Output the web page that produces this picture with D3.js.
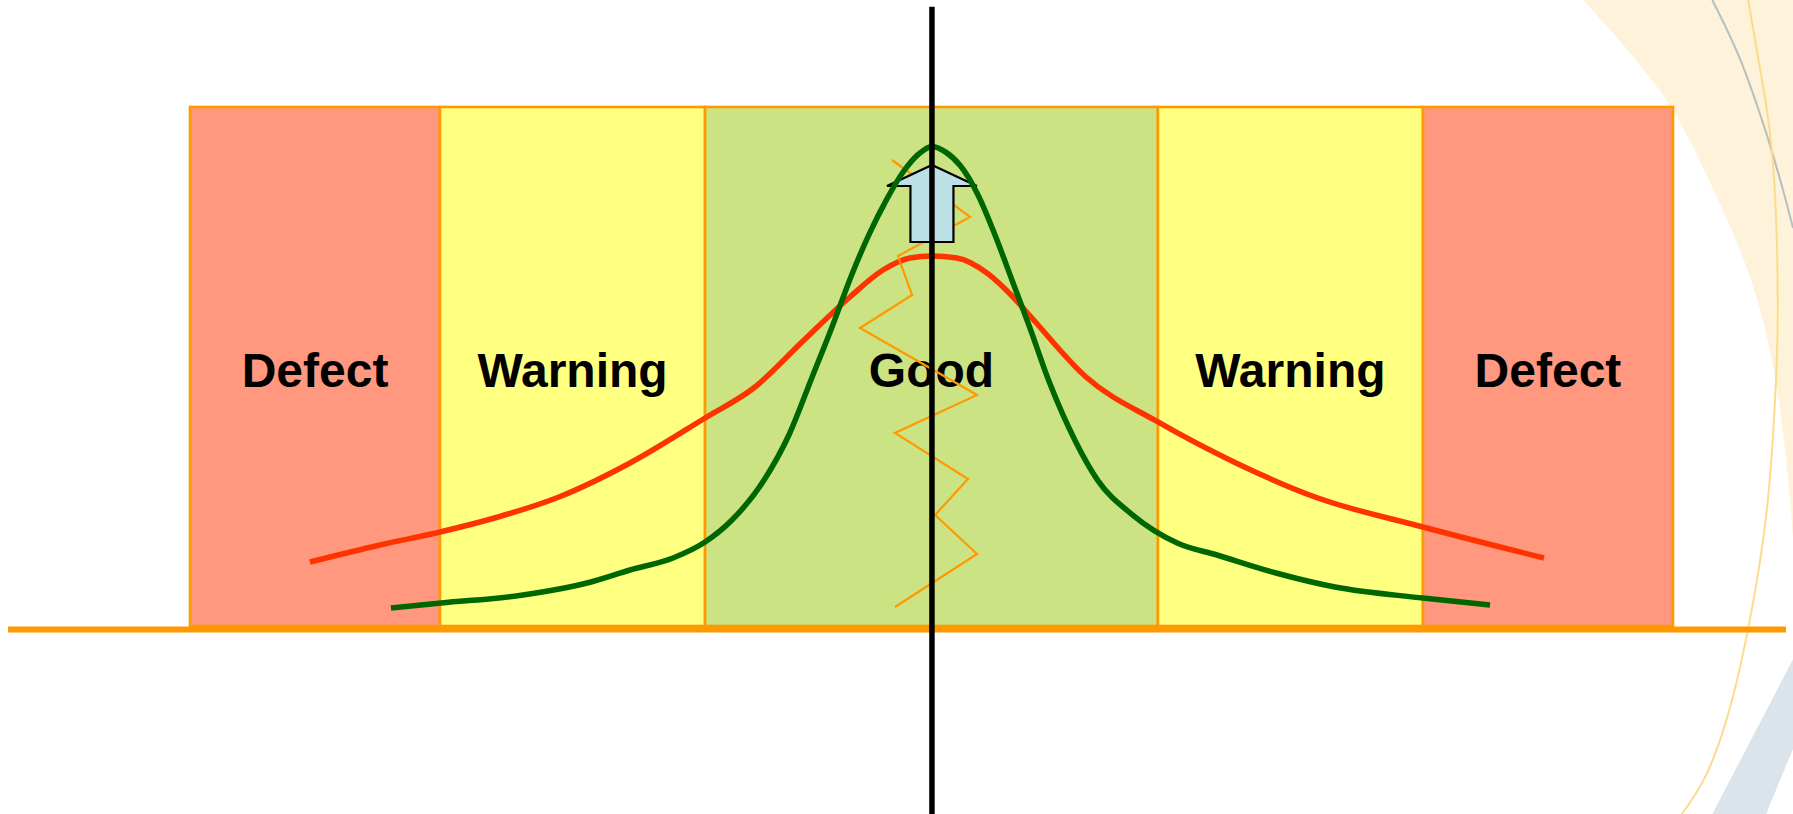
<!DOCTYPE html>
<html>
<head>
<meta charset="utf-8">
<script src="https://cdn.jsdelivr.net/npm/d3@7"></script>
<style>
  html, body { margin: 0; padding: 0; background: #ffffff; }
  svg { display: block; }
</style>
</head>
<body>
<svg id="chart" width="1793" height="814"></svg>
<script>
// ---------------- DATA ----------------
// Zones along the measured characteristic (x in % of the spec window)
const zoneNames  = ["Defect", "Warning", "Good", "Warning", "Defect"];
const zoneEdges  = [0, 16.86, 34.73, 65.27, 83.14, 100];
const zoneColors = ["#ff987f", "#ffff80", "#cce384", "#ffff80", "#ff987f"];

// Process mean (target)
const meanX = 50.03;

// Wide (poor capability) distribution - red
const wideX = [8.09, 12.81, 16.86, 20.77, 24.88, 29.67, 34.73, 38.10, 41.20, 44.50, 46.73, 48.55, 50.03,
               51.72, 53.74, 55.50, 56.71, 60.42, 65.27, 70.53, 75.86, 83.14, 91.30];
const wideY = [12.33, 15.61, 18.11, 21.00, 24.86, 31.41, 40.08, 46.05, 54.53, 63.39, 68.59, 70.91, 71.29,
               70.91, 68.02, 63.39, 59.54, 47.98, 39.31, 31.41, 24.86, 19.08, 13.10];

// Narrow (improved capability) distribution - green
const narrowX = [13.55, 16.93, 22.45, 26.77, 29.67, 32.57, 34.73, 36.53, 38.70, 40.40, 41.94, 43.32, 44.63,
                 45.79, 46.95, 48.11, 49.11, 50.03, 50.96, 51.95, 53.12, 54.27, 55.43, 56.59, 57.97,
                 59.67, 61.21, 63.53, 66.61, 69.25, 73.23, 77.21, 83.14, 87.66];
const narrowY = [3.47, 4.43, 5.97, 8.29, 10.79, 13.10, 16.18, 20.37, 28.07, 36.90, 47.89, 57.82, 67.74,
                 75.45, 82.06, 87.57, 90.87, 92.41, 91.31, 88.67, 83.16, 75.45, 66.63, 57.82, 46.80,
                 35.80, 28.07, 21.47, 15.95, 13.68, 10.21, 7.51, 5.39, 4.05];

// Zig-zag (process variation trace)
const zigX = [47.34, 52.60, 47.74, 48.69, 45.18, 53.07, 47.54, 52.46, 50.24, 53.07, 47.54];
const zigY = [89.79, 78.81, 71.29, 63.78, 57.42, 44.51, 37.19, 28.32, 21.39, 13.87, 3.66];

// Improvement arrow (shaft bottom, head base, tip; half widths)
const arrowY = [73.99, 84.78, 88.82];
const arrowHalfW = [1.45, 3.03];

// Axis extents
const baselineX = [-12.27, 107.62];
const meanLineY = [-36.5, 119.3];
const labelY = 49.3;

// ---------------- CHART ----------------
const W = 1793, H = 814;
const svg = d3.select("#chart");

const x = d3.scaleLinear().domain([0, 100]).range([190, 1673]);
const y = d3.scaleLinear().domain([0, 100]).range([626, 107]);

// background decoration (page fraction coords)
const px = d3.scaleLinear().domain([0, 1]).range([0, W]);
const py = d3.scaleLinear().domain([0, 1]).range([0, H]);
const deco = svg.append("g");
const bandArc = [[0.883,0],[0.911,0.070],[0.933,0.135],[0.955,0.230],[0.976,0.340],[0.988,0.440],
                 [0.996,0.560],[1.0,0.66]];
const arcPath = d3.line().x(d => px(d[0])).y(d => py(d[1])).curve(d3.curveCatmullRom)(bandArc);
deco.append("path")
  .attr("d", arcPath + "L" + px(1.0) + "," + py(0) + "Z")
  .attr("fill", "#fef2da");
const bluePts = [[1.0,0.81],[0.955,1.0],[0.985,1.0],[1.0,0.92]];
deco.append("path")
  .attr("d", d3.line().x(d => px(d[0])).y(d => py(d[1]))(bluePts))
  .attr("fill", "#dbe4eb");
const grayPts = [[0.955,0],[0.970,0.070],[0.985,0.163],[0.994,0.230],[1.0,0.28]];
deco.append("path")
  .attr("d", d3.line().x(d => px(d[0])).y(d => py(d[1])).curve(d3.curveCatmullRom)(grayPts))
  .attr("fill", "none").attr("stroke", "#b7bfbd").attr("stroke-width", 2);
const orangePts = [[0.975,0],[0.983,0.102],[0.989,0.205],[0.9915,0.369],[0.990,0.491],
                   [0.986,0.614],[0.978,0.737],[0.966,0.860],[0.952,0.950],[0.938,1.0]];
deco.append("path")
  .attr("d", d3.line().x(d => px(d[0])).y(d => py(d[1])).curve(d3.curveNatural)(orangePts))
  .attr("fill", "none").attr("stroke", "#fddb8c").attr("stroke-width", 2);

// zones
const zones = zoneNames.map((n, i) => ({name: n, x0: zoneEdges[i], x1: zoneEdges[i + 1], color: zoneColors[i]}));
svg.append("g").selectAll("rect").data(zones).join("rect")
  .attr("x", d => x(d.x0))
  .attr("y", y(100))
  .attr("width", d => x(d.x1) - x(d.x0))
  .attr("height", y(0) - y(100))
  .attr("fill", d => d.color)
  .attr("stroke", "#ff9900")
  .attr("stroke-width", 2.6);

// labels
svg.append("g").selectAll("text").data(zones).join("text")
  .attr("x", d => x((d.x0 + d.x1) / 2))
  .attr("y", y(labelY))
  .attr("text-anchor", "middle")
  .attr("dominant-baseline", "central")
  .attr("font-family", "'Liberation Sans', Arial, sans-serif")
  .attr("font-weight", "bold")
  .attr("font-size", 48)
  .attr("fill", "#000")
  .text(d => d.name);

// baseline
svg.append("line")
  .attr("x1", x(baselineX[0])).attr("x2", x(baselineX[1]))
  .attr("y1", y(0) + 3.5).attr("y2", y(0) + 3.5)
  .attr("stroke", "#ff9900").attr("stroke-width", 6);

const curve = d3.line().x(d => x(d[0])).y(d => y(d[1])).curve(d3.curveMonotoneX);

// wide distribution
svg.append("path")
  .attr("d", curve(d3.zip(wideX, wideY)))
  .attr("fill", "none").attr("stroke", "#ff3300").attr("stroke-width", 5.5);

// zig-zag
svg.append("path")
  .attr("d", d3.line().x(d => x(d[0])).y(d => y(d[1]))(d3.zip(zigX, zigY)))
  .attr("fill", "none").attr("stroke", "#ff9900").attr("stroke-width", 2.2)
  .attr("stroke-linejoin", "miter");

// arrow
const arrowPts = [
  [meanX - arrowHalfW[0], arrowY[0]], [meanX - arrowHalfW[0], arrowY[1]], [meanX - arrowHalfW[1], arrowY[1]],
  [meanX, arrowY[2]],
  [meanX + arrowHalfW[1], arrowY[1]], [meanX + arrowHalfW[0], arrowY[1]], [meanX + arrowHalfW[0], arrowY[0]]
];
svg.append("path")
  .attr("d", d3.line().x(d => x(d[0])).y(d => y(d[1]))(arrowPts) + "Z")
  .attr("fill", "#bde0e6").attr("stroke", "#000").attr("stroke-width", 2.2)
  .attr("stroke-linejoin", "miter");

// narrow distribution
svg.append("path")
  .attr("d", curve(d3.zip(narrowX, narrowY)))
  .attr("fill", "none").attr("stroke", "#006600").attr("stroke-width", 5.5);

// mean line
svg.append("line")
  .attr("x1", x(meanX)).attr("x2", x(meanX))
  .attr("y1", y(meanLineY[1])).attr("y2", y(meanLineY[0]))
  .attr("stroke", "#000").attr("stroke-width", 5.5);
</script>
</body>
</html>
